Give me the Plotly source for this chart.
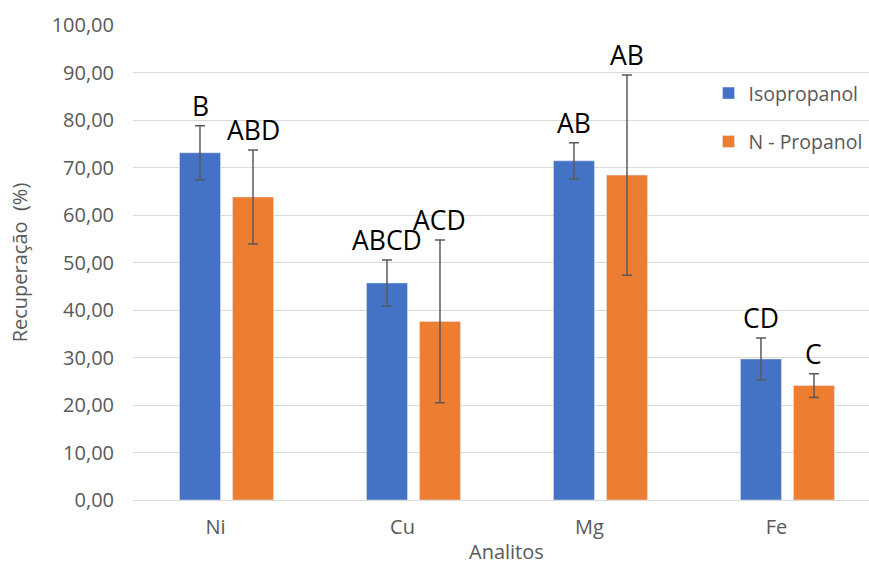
import plotly.graph_objects as go

# Recovery (%) per analyte for the two solvents
analitos = ["Ni", "Cu", "Mg", "Fe"]
isopropanol = [73.1, 45.7, 71.4, 29.7]
isopropanol_err = [5.7, 4.85, 3.8, 4.4]
n_propanol = [63.8, 37.6, 68.4, 24.1]
n_propanol_err = [9.9, 17.15, 21.1, 2.5]
letras_iso = ["B", "ABCD", "AB", "CD"]
letras_np = ["ABD", "ACD", "AB", "C"]
y_ticks = [0, 10, 20, 30, 40, 50, 60, 70, 80, 90, 100]

FONT = "Open Sans"
GRAY = "#595959"
BLUE = "#4472C4"
ORANGE = "#ED7D31"

fig = go.Figure()
fig.add_trace(go.Bar(
    name="Isopropanol", x=analitos, y=isopropanol, marker_color=BLUE,
    legendgroup="iso",
    error_y=dict(type="data", array=isopropanol_err, color=GRAY, thickness=1.5, width=5),
))
fig.add_trace(go.Bar(
    name="N - Propanol", x=analitos, y=n_propanol, marker_color=ORANGE,
    legendgroup="np",
    error_y=dict(type="data", array=n_propanol_err, color=GRAY, thickness=1.5, width=5),
))

# significance letters above each error bar
for cat, v, e, t in zip(analitos, isopropanol, isopropanol_err, letras_iso):
    fig.add_annotation(x=cat, y=v + e, text=t, showarrow=False, xshift=-26.5,
                       yanchor="bottom", yshift=0,
                       font=dict(family=FONT, size=26.5, color="#000000"))
for cat, v, e, t in zip(analitos, n_propanol, n_propanol_err, letras_np):
    fig.add_annotation(x=cat, y=v + e, text=t, showarrow=False, xshift=26.5,
                       yanchor="bottom", yshift=0,
                       font=dict(family=FONT, size=26.5, color="#000000"))

fig.add_annotation(text="Analitos", xref="paper", yref="paper", x=0.508, y=0,
                   yshift=-51, yanchor="middle", showarrow=False,
                   font=dict(family=FONT, size=20, color=GRAY))

fig.update_layout(
    width=869, height=565,
    margin=dict(l=133, r=0, t=25, b=65, autoexpand=False),
    paper_bgcolor="white", plot_bgcolor="white",
    separators=",.",
    barmode="group", bargap=0.433, bargroupgap=0.226,
    font=dict(family=FONT, size=20, color=GRAY),
    legend=dict(x=0.782, xanchor="left", y=0.897, yanchor="top",
                traceorder="grouped", tracegroupgap=20,
                font=dict(family=FONT, size=19.5, color=GRAY),
                bgcolor="rgba(0,0,0,0)"),
    xaxis=dict(range=[-0.5, 3.436], showgrid=False, showline=False, ticks="",
               ticklabelshift=-11, ticklabelstandoff=13,
               tickfont=dict(family=FONT, size=20, color=GRAY)),
    yaxis=dict(range=[0, 100], tickvals=y_ticks, tickformat=".2f",
               showgrid=True, gridcolor="#D9D9D9", gridwidth=1.3,
               zeroline=True, zerolinecolor="#D9D9D9", zerolinewidth=1.3,
               showline=False, ticks="", ticklabelstandoff=18,
               tickfont=dict(family=FONT, size=20, color=GRAY),
               title=dict(text="Recuperação\u00a0 (%)", standoff=18,
                          font=dict(family=FONT, size=20, color=GRAY))),
)

fig.write_html("out.html")
